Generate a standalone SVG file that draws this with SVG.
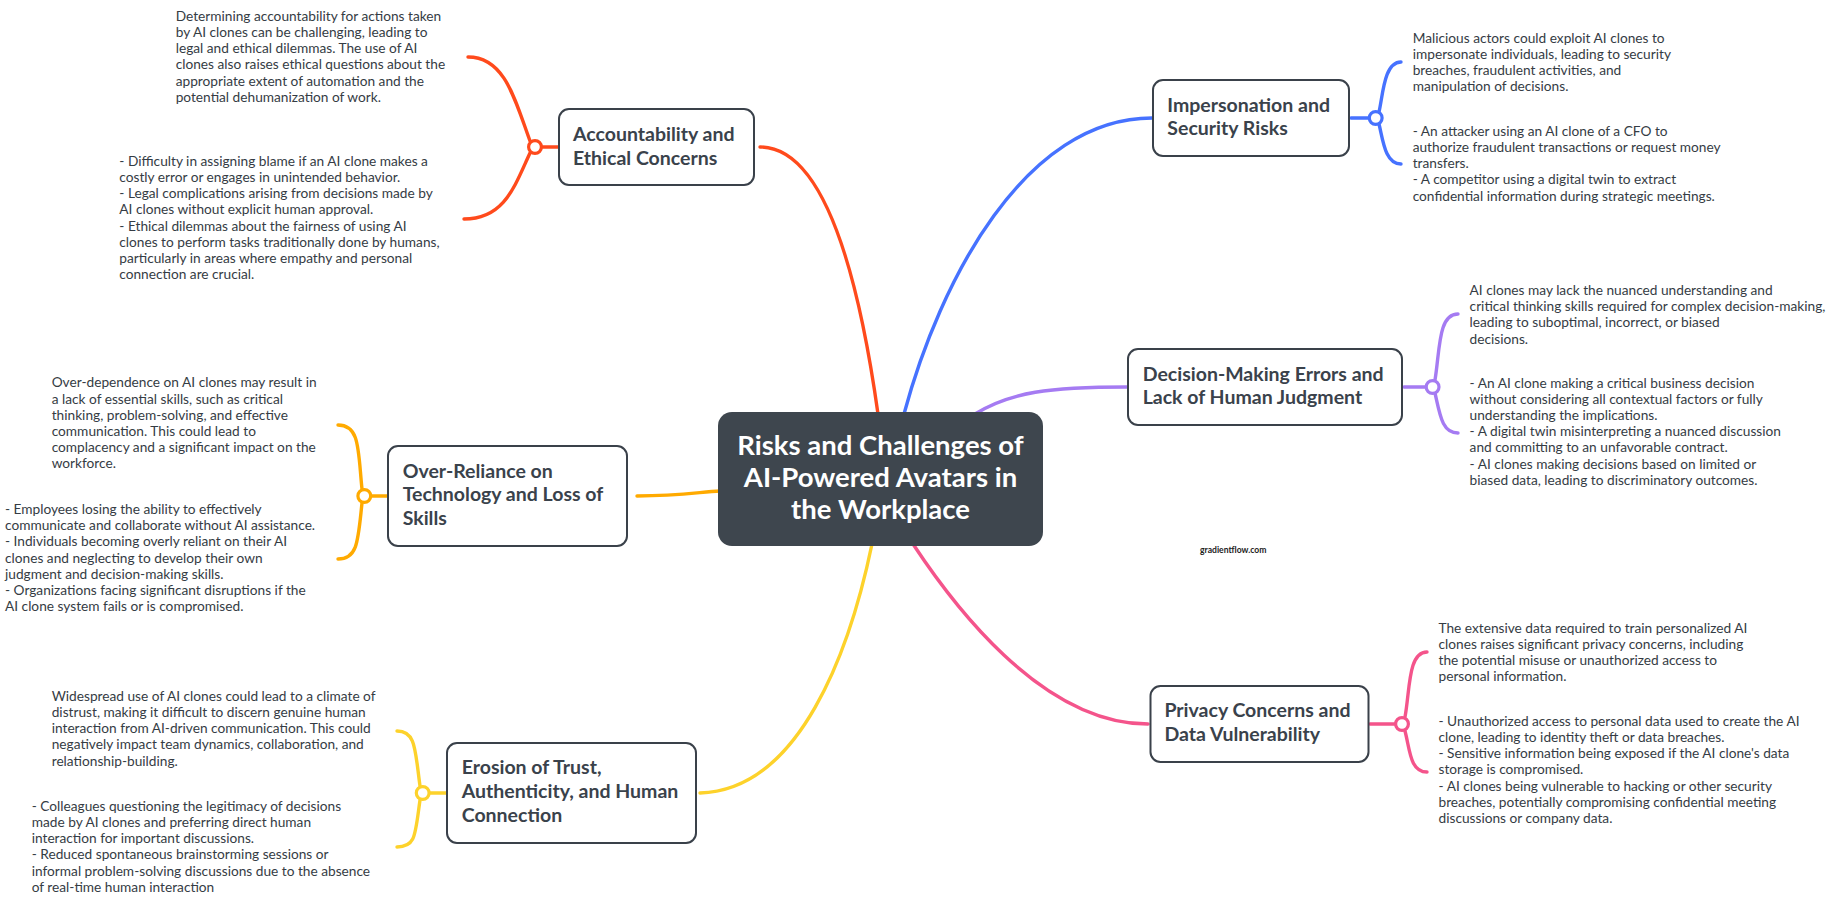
<svg xmlns="http://www.w3.org/2000/svg" width="1835" height="900" viewBox="0 0 1835 900">
<style>
.bg{fill:#ffffff}
.c{fill:none;stroke-width:3.4;stroke-linecap:round}
.dot{fill:#ffffff;stroke-width:3.2}
.red{stroke:#FF4A1C}
.blue{stroke:#4672FF}
.purple{stroke:#A57BF2}
.orange{stroke:#FFAA00}
.yellow{stroke:#FDD22B}
.pink{stroke:#F4548B}
.box{fill:#ffffff;stroke:#3a414a;stroke-width:2}
.root{fill:#3e464e}
.tt{font-family:Lato,"Liberation Sans",sans-serif;font-size:19.5px;font-weight:bold;fill:#3a424b}
.rt{font-family:Lato,"Liberation Sans",sans-serif;font-size:27.5px;font-weight:bold;fill:#ffffff;text-anchor:middle}
.t{font-family:Lato,"Liberation Sans",sans-serif;font-size:13.7px;fill:#353c44}
.wm{font-family:Lato,"Liberation Sans",sans-serif;font-size:8.6px;font-weight:bold;fill:#222222}
</style>
<rect class="bg" x="0" y="0" width="1835" height="900"/>
<g id="connectors">
  <path class="c red" d="M760,147 C830,147 862,300 878,414"/>
  <path class="c blue" d="M904,414 C940,280 1025,118 1152,118"/>
  <path class="c purple" d="M975,414 C1010,392 1050,387 1127,387"/>
  <path class="c orange" d="M637,496 C680,496 700,492 720,491"/>
  <path class="c yellow" d="M700,793 C800,790 850,650 872,544"/>
  <path class="c pink" d="M913,544 C950,600 1040,724 1148,724"/>

  <path class="c red" d="M530,141 C515,100 505,57 468,57"/>
  <path class="c red" d="M530,153 C515,185 505,219 464,219"/>
  <path class="c red" d="M541,147 L558,147"/>
  <circle class="dot red" cx="535" cy="147" r="6.4"/>

  <path class="c orange" d="M362,489 C358,450 360,425 338,425"/>
  <path class="c orange" d="M362,503 C358,540 358,559 338,559"/>
  <path class="c orange" d="M370,496 L387,496"/>
  <circle class="dot orange" cx="364.3" cy="496" r="6.4"/>

  <path class="c yellow" d="M420,786 C415,750 416,731 397,731"/>
  <path class="c yellow" d="M420,800 C415,835 416,847 397,847"/>
  <path class="c yellow" d="M429,793 L446,793"/>
  <circle class="dot yellow" cx="422.7" cy="793" r="6.4"/>

  <path class="c blue" d="M1379,112 C1383,95 1384,62 1401,62"/>
  <path class="c blue" d="M1379,124 C1383,140 1385,164 1401,164"/>
  <path class="c blue" d="M1351,118 L1369,118"/>
  <circle class="dot blue" cx="1375.7" cy="118" r="6.4"/>

  <path class="c purple" d="M1435,380 C1440,350 1438,314 1458,314"/>
  <path class="c purple" d="M1435,393 C1440,415 1442,433 1458,433"/>
  <path class="c purple" d="M1404,387 L1426,387"/>
  <circle class="dot purple" cx="1432.6" cy="387" r="6.4"/>

  <path class="c pink" d="M1405,717 C1410,690 1408,652 1427,652"/>
  <path class="c pink" d="M1405,731 C1410,750 1410,772 1427,772"/>
  <path class="c pink" d="M1370,724 L1396,724"/>
  <circle class="dot pink" cx="1402" cy="724" r="6.4"/>
</g>

<g id="root">
  <rect class="root" x="718" y="412" width="325" height="134" rx="14"/>
  <text class="rt"><tspan x="880.5" y="455">Risks and Challenges of</tspan><tspan x="880.5" y="487">AI-Powered Avatars in</tspan><tspan x="880.5" y="519">the Workplace</tspan></text>
</g>

<g id="accountability">
  <rect class="box" x="559" y="109" width="195" height="76" rx="10"/>
  <text class="tt"><tspan x="573" y="140.5">Accountability and</tspan><tspan x="573" y="164.5">Ethical Concerns</tspan></text>
  <text class="t"><tspan x="175.7" y="20.7">Determining accountability for actions taken</tspan><tspan x="175.7" dy="16.2">by AI clones can be challenging, leading to</tspan><tspan x="175.7" dy="16.2">legal and ethical dilemmas. The use of AI</tspan><tspan x="175.7" dy="16.2">clones also raises ethical questions about the</tspan><tspan x="175.7" dy="16.2">appropriate extent of automation and the</tspan><tspan x="175.7" dy="16.2">potential dehumanization of work.</tspan></text>
  <text class="t"><tspan x="119.3" y="165.7">- Difficulty in assigning blame if an AI clone makes a</tspan><tspan x="119.3" dy="16.2">costly error or engages in unintended behavior.</tspan><tspan x="119.3" dy="16.2">- Legal complications arising from decisions made by</tspan><tspan x="119.3" dy="16.2">AI clones without explicit human approval.</tspan><tspan x="119.3" dy="16.2">- Ethical dilemmas about the fairness of using AI</tspan><tspan x="119.3" dy="16.2">clones to perform tasks traditionally done by humans,</tspan><tspan x="119.3" dy="16.2">particularly in areas where empathy and personal</tspan><tspan x="119.3" dy="16.2">connection are crucial.</tspan></text>
</g>

<g id="over-reliance">
  <rect class="box" x="388" y="446" width="239" height="100" rx="10"/>
  <text class="tt"><tspan x="402.7" y="477.5">Over-Reliance on</tspan><tspan x="402.7" y="501.3">Technology and Loss of</tspan><tspan x="402.7" y="525">Skills</tspan></text>
  <text class="t"><tspan x="51.7" y="387.3">Over-dependence on AI clones may result in</tspan><tspan x="51.7" dy="16.2">a lack of essential skills, such as critical</tspan><tspan x="51.7" dy="16.2">thinking, problem-solving, and effective</tspan><tspan x="51.7" dy="16.2">communication. This could lead to</tspan><tspan x="51.7" dy="16.2">complacency and a significant impact on the</tspan><tspan x="51.7" dy="16.2">workforce.</tspan></text>
  <text class="t"><tspan x="5" y="514">- Employees losing the ability to effectively</tspan><tspan x="5" dy="16.2">communicate and collaborate without AI assistance.</tspan><tspan x="5" dy="16.2">- Individuals becoming overly reliant on their AI</tspan><tspan x="5" dy="16.2">clones and neglecting to develop their own</tspan><tspan x="5" dy="16.2">judgment and decision-making skills.</tspan><tspan x="5" dy="16.2">- Organizations facing significant disruptions if the</tspan><tspan x="5" dy="16.2">AI clone system fails or is compromised.</tspan></text>
</g>

<g id="erosion">
  <rect class="box" x="447" y="743" width="249" height="100" rx="10"/>
  <text class="tt"><tspan x="461.7" y="774">Erosion of Trust,</tspan><tspan x="461.7" y="797.8">Authenticity, and Human</tspan><tspan x="461.7" y="821.6">Connection</tspan></text>
  <text class="t"><tspan x="51.7" y="700.7">Widespread use of AI clones could lead to a climate of</tspan><tspan x="51.7" dy="16.2">distrust, making it difficult to discern genuine human</tspan><tspan x="51.7" dy="16.2">interaction from AI-driven communication. This could</tspan><tspan x="51.7" dy="16.2">negatively impact team dynamics, collaboration, and</tspan><tspan x="51.7" dy="16.2">relationship-building.</tspan></text>
  <text class="t"><tspan x="31.7" y="810.7">- Colleagues questioning the legitimacy of decisions</tspan><tspan x="31.7" dy="16.2">made by AI clones and preferring direct human</tspan><tspan x="31.7" dy="16.2">interaction for important discussions.</tspan><tspan x="31.7" dy="16.2">- Reduced spontaneous brainstorming sessions or</tspan><tspan x="31.7" dy="16.2">informal problem-solving discussions due to the absence</tspan><tspan x="31.7" dy="16.2">of real-time human interaction</tspan></text>
</g>

<g id="impersonation">
  <rect class="box" x="1153" y="80" width="196" height="76" rx="10"/>
  <text class="tt"><tspan x="1167.3" y="111.5">Impersonation and</tspan><tspan x="1167.3" y="135.3">Security Risks</tspan></text>
  <text class="t"><tspan x="1412.7" y="42.7">Malicious actors could exploit AI clones to</tspan><tspan x="1412.7" dy="16.2">impersonate individuals, leading to security</tspan><tspan x="1412.7" dy="16.2">breaches, fraudulent activities, and</tspan><tspan x="1412.7" dy="16.2">manipulation of decisions.</tspan></text>
  <text class="t"><tspan x="1412.7" y="135.7">- An attacker using an AI clone of a CFO to</tspan><tspan x="1412.7" dy="16.2">authorize fraudulent transactions or request money</tspan><tspan x="1412.7" dy="16.2">transfers.</tspan><tspan x="1412.7" dy="16.2">- A competitor using a digital twin to extract</tspan><tspan x="1412.7" dy="16.2">confidential information during strategic meetings.</tspan></text>
</g>

<g id="decision-making">
  <rect class="box" x="1128" y="349" width="274" height="76" rx="10"/>
  <text class="tt"><tspan x="1142.7" y="380.5">Decision-Making Errors and</tspan><tspan x="1142.7" y="404.3">Lack of Human Judgment</tspan></text>
  <text class="t"><tspan x="1469.6" y="295">AI clones may lack the nuanced understanding and</tspan><tspan x="1469.6" dy="16.2">critical thinking skills required for complex decision-making,</tspan><tspan x="1469.6" dy="16.2">leading to suboptimal, incorrect, or biased</tspan><tspan x="1469.6" dy="16.2">decisions.</tspan></text>
  <text class="t"><tspan x="1469.6" y="387.5">- An AI clone making a critical business decision</tspan><tspan x="1469.6" dy="16.2">without considering all contextual factors or fully</tspan><tspan x="1469.6" dy="16.2">understanding the implications.</tspan><tspan x="1469.6" dy="16.2">- A digital twin misinterpreting a nuanced discussion</tspan><tspan x="1469.6" dy="16.2">and committing to an unfavorable contract.</tspan><tspan x="1469.6" dy="16.2">- AI clones making decisions based on limited or</tspan><tspan x="1469.6" dy="16.2">biased data, leading to discriminatory outcomes.</tspan></text>
</g>

<g id="privacy">
  <rect class="box" x="1150.5" y="686" width="218" height="76" rx="10"/>
  <text class="tt"><tspan x="1164.4" y="717">Privacy Concerns and</tspan><tspan x="1164.4" y="740.8">Data Vulnerability</tspan></text>
  <text class="t"><tspan x="1438.5" y="632.7">The extensive data required to train personalized AI</tspan><tspan x="1438.5" dy="16.2">clones raises significant privacy concerns, including</tspan><tspan x="1438.5" dy="16.2">the potential misuse or unauthorized access to</tspan><tspan x="1438.5" dy="16.2">personal information.</tspan></text>
  <text class="t"><tspan x="1438.5" y="725.7">- Unauthorized access to personal data used to create the AI</tspan><tspan x="1438.5" dy="16.2">clone, leading to identity theft or data breaches.</tspan><tspan x="1438.5" dy="16.2">- Sensitive information being exposed if the AI clone's data</tspan><tspan x="1438.5" dy="16.2">storage is compromised.</tspan><tspan x="1438.5" dy="16.2">- AI clones being vulnerable to hacking or other security</tspan><tspan x="1438.5" dy="16.2">breaches, potentially compromising confidential meeting</tspan><tspan x="1438.5" dy="16.2">discussions or company data.</tspan></text>
</g>

<g id="watermark">
  <text class="wm" x="1200" y="553">gradientflow.com</text>
</g>
</svg>
